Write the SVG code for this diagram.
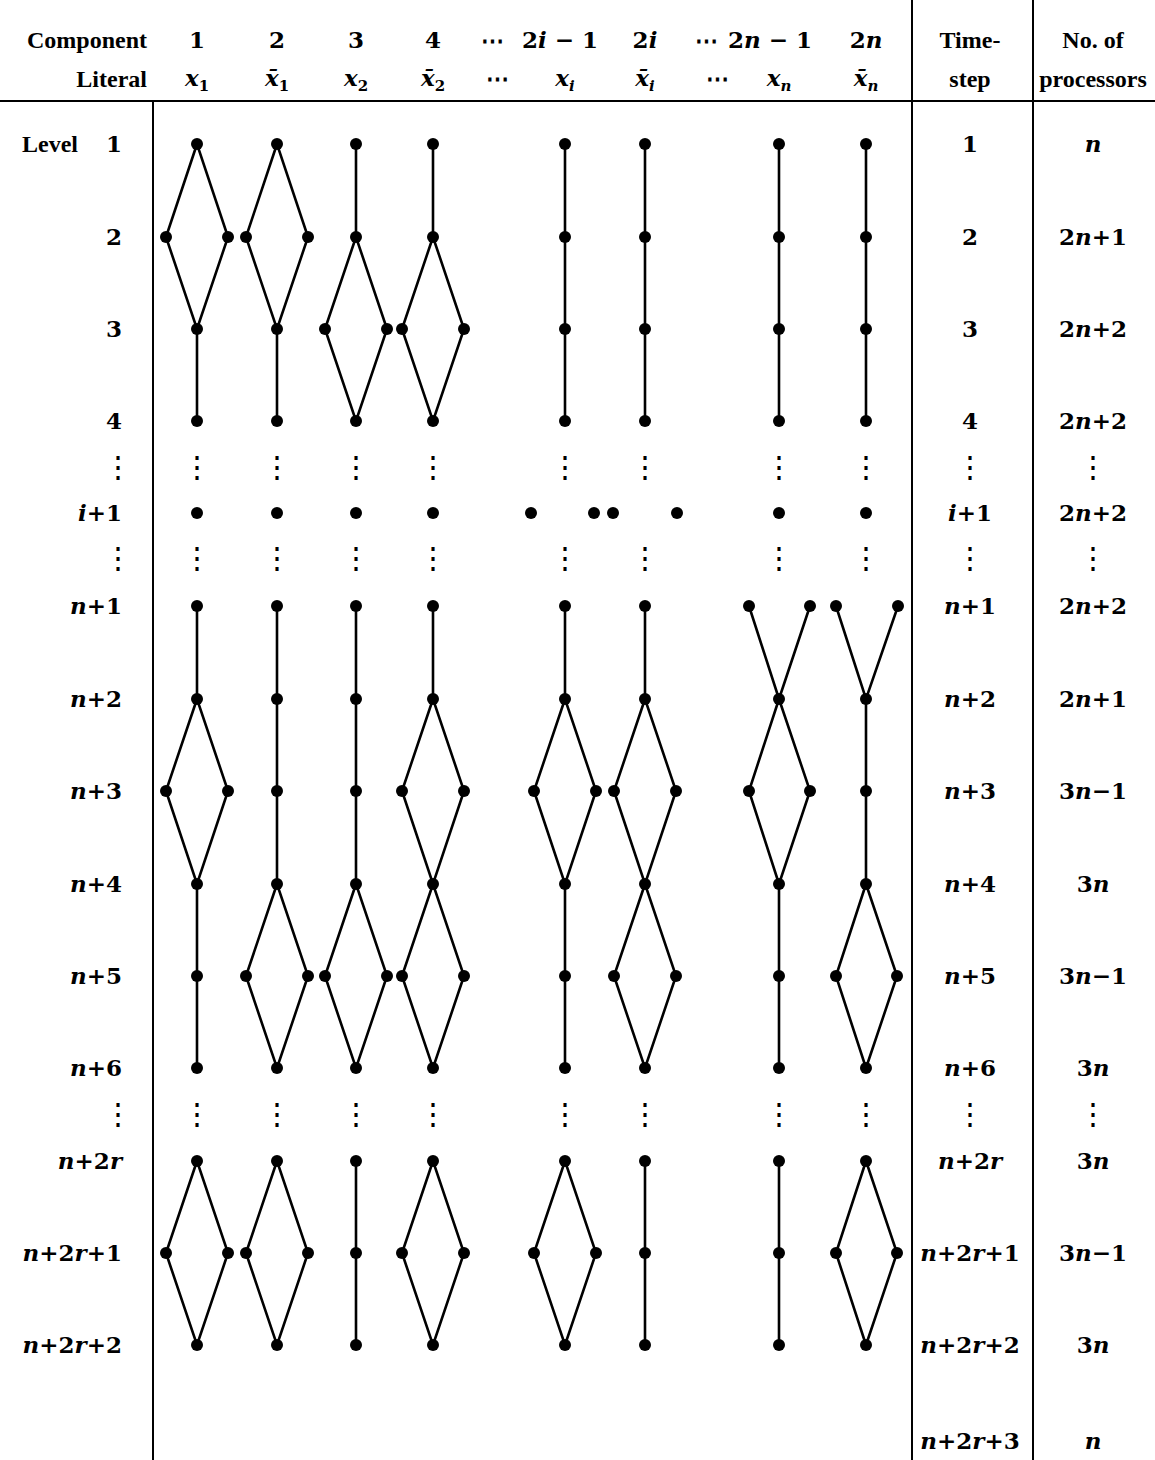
<svg xmlns="http://www.w3.org/2000/svg" width="1155" height="1460" viewBox="0 0 1155 1460">
<style>
.w{font-family:"Liberation Serif",serif;font-weight:bold;font-size:24px;fill:#000}
.m{font-family:"DejaVu Serif",serif;font-weight:bold;font-size:23px;fill:#000}
.i{font-style:italic}
.s{font-size:15px}
.v{font-family:"DejaVu Serif",serif;font-weight:normal;font-size:30px;fill:#000;text-anchor:middle}
.c{text-anchor:middle}
.r{text-anchor:end}
.e{stroke:#000;stroke-width:2.6;fill:none;stroke-linejoin:miter}
.g{stroke:#000;stroke-width:2;fill:none}
.d{fill:#000}
</style>
<rect width="1155" height="1460" fill="#fff"/>
<g id="grid">
<line class="g" x1="0" y1="101" x2="1155" y2="101"/>
<line class="g" x1="153" y1="101" x2="153" y2="1460"/>
<line class="g" x1="912" y1="0" x2="912" y2="1460"/>
<line class="g" x1="1033" y1="0" x2="1033" y2="1460"/>
</g>
<g id="header">
<text class="w r" x="147" y="48">Component</text>
<text class="w r" x="147" y="87">Literal</text>
<text class="m c" x="197" y="48">1</text>
<text class="m c" x="277" y="48">2</text>
<text class="m c" x="356" y="48">3</text>
<text class="m c" x="433" y="48">4</text>
<text class="m c" x="492" y="48">⋯</text>
<text class="m c" x="560" y="48">2<tspan class="i">i</tspan> − 1</text>
<text class="m c" x="645" y="48">2<tspan class="i">i</tspan></text>
<text class="m c" x="706" y="48">⋯</text>
<text class="m c" x="770" y="48">2<tspan class="i">n</tspan> − 1</text>
<text class="m c" x="866" y="48">2<tspan class="i">n</tspan></text>
<text class="m c" x="197" y="86"><tspan class="i">x</tspan><tspan class="s" dy="5">1</tspan></text>
<text class="m c" x="277" y="86"><tspan class="i">x̄</tspan><tspan class="s" dy="5">1</tspan></text>
<text class="m c" x="356" y="86"><tspan class="i">x</tspan><tspan class="s" dy="5">2</tspan></text>
<text class="m c" x="433" y="86"><tspan class="i">x̄</tspan><tspan class="s" dy="5">2</tspan></text>
<text class="m c" x="497" y="86">⋯</text>
<text class="m c" x="565" y="86"><tspan class="i">x</tspan><tspan class="s i" dy="5">i</tspan></text>
<text class="m c" x="645" y="86"><tspan class="i">x̄</tspan><tspan class="s i" dy="5">i</tspan></text>
<text class="m c" x="717" y="86">⋯</text>
<text class="m c" x="779" y="86"><tspan class="i">x</tspan><tspan class="s i" dy="5">n</tspan></text>
<text class="m c" x="866" y="86"><tspan class="i">x̄</tspan><tspan class="s i" dy="5">n</tspan></text>
<text class="w c" x="970" y="48">Time-</text>
<text class="w c" x="970" y="87">step</text>
<text class="w c" x="1093" y="48">No. of</text>
<text class="w c" x="1093" y="87">processors</text>
</g>
<g id="level-labels">
<text class="w" x="22" y="152">Level</text>
<text class="m r" x="122" y="152">1</text>
<text class="m r" x="122" y="245">2</text>
<text class="m r" x="122" y="337">3</text>
<text class="m r" x="122" y="429">4</text>
<text class="v" x="118" y="477">⋮</text>
<text class="m r" x="122" y="521"><tspan class="i">i</tspan>+1</text>
<text class="v" x="118" y="568">⋮</text>
<text class="m r" x="122" y="614"><tspan class="i">n</tspan>+1</text>
<text class="m r" x="122" y="707"><tspan class="i">n</tspan>+2</text>
<text class="m r" x="122" y="799"><tspan class="i">n</tspan>+3</text>
<text class="m r" x="122" y="892"><tspan class="i">n</tspan>+4</text>
<text class="m r" x="122" y="984"><tspan class="i">n</tspan>+5</text>
<text class="m r" x="122" y="1076"><tspan class="i">n</tspan>+6</text>
<text class="v" x="118" y="1124">⋮</text>
<text class="m r" x="122" y="1169"><tspan class="i">n</tspan>+2<tspan class="i">r</tspan></text>
<text class="m r" x="122" y="1261"><tspan class="i">n</tspan>+2<tspan class="i">r</tspan>+1</text>
<text class="m r" x="122" y="1353"><tspan class="i">n</tspan>+2<tspan class="i">r</tspan>+2</text>
</g>
<g id="timestep">
<text class="m c" x="970" y="152">1</text>
<text class="m c" x="970" y="245">2</text>
<text class="m c" x="970" y="337">3</text>
<text class="m c" x="970" y="429">4</text>
<text class="v" x="970" y="477">⋮</text>
<text class="m c" x="970" y="521"><tspan class="i">i</tspan>+1</text>
<text class="v" x="970" y="568">⋮</text>
<text class="m c" x="970" y="614"><tspan class="i">n</tspan>+1</text>
<text class="m c" x="970" y="707"><tspan class="i">n</tspan>+2</text>
<text class="m c" x="970" y="799"><tspan class="i">n</tspan>+3</text>
<text class="m c" x="970" y="892"><tspan class="i">n</tspan>+4</text>
<text class="m c" x="970" y="984"><tspan class="i">n</tspan>+5</text>
<text class="m c" x="970" y="1076"><tspan class="i">n</tspan>+6</text>
<text class="v" x="970" y="1124">⋮</text>
<text class="m c" x="970" y="1169"><tspan class="i">n</tspan>+2<tspan class="i">r</tspan></text>
<text class="m c" x="970" y="1261"><tspan class="i">n</tspan>+2<tspan class="i">r</tspan>+1</text>
<text class="m c" x="970" y="1353"><tspan class="i">n</tspan>+2<tspan class="i">r</tspan>+2</text>
<text class="m c" x="970" y="1449"><tspan class="i">n</tspan>+2<tspan class="i">r</tspan>+3</text>
</g>
<g id="processors">
<text class="m c i" x="1093" y="152">n</text>
<text class="m c" x="1093" y="245">2<tspan class="i">n</tspan>+1</text>
<text class="m c" x="1093" y="337">2<tspan class="i">n</tspan>+2</text>
<text class="m c" x="1093" y="429">2<tspan class="i">n</tspan>+2</text>
<text class="v" x="1093" y="477">⋮</text>
<text class="m c" x="1093" y="521">2<tspan class="i">n</tspan>+2</text>
<text class="v" x="1093" y="568">⋮</text>
<text class="m c" x="1093" y="614">2<tspan class="i">n</tspan>+2</text>
<text class="m c" x="1093" y="707">2<tspan class="i">n</tspan>+1</text>
<text class="m c" x="1093" y="799">3<tspan class="i">n</tspan>−1</text>
<text class="m c" x="1093" y="892">3<tspan class="i">n</tspan></text>
<text class="m c" x="1093" y="984">3<tspan class="i">n</tspan>−1</text>
<text class="m c" x="1093" y="1076">3<tspan class="i">n</tspan></text>
<text class="v" x="1093" y="1124">⋮</text>
<text class="m c" x="1093" y="1169">3<tspan class="i">n</tspan></text>
<text class="m c" x="1093" y="1261">3<tspan class="i">n</tspan>−1</text>
<text class="m c" x="1093" y="1353">3<tspan class="i">n</tspan></text>
<text class="m c i" x="1093" y="1449">n</text>
</g>
<g id="ellipses">
<text class="v" x="197" y="477">⋮</text><text class="v" x="277" y="477">⋮</text><text class="v" x="356" y="477">⋮</text><text class="v" x="433" y="477">⋮</text><text class="v" x="565" y="477">⋮</text><text class="v" x="645" y="477">⋮</text><text class="v" x="779" y="477">⋮</text><text class="v" x="866" y="477">⋮</text>
<text class="v" x="197" y="568">⋮</text><text class="v" x="277" y="568">⋮</text><text class="v" x="356" y="568">⋮</text><text class="v" x="433" y="568">⋮</text><text class="v" x="565" y="568">⋮</text><text class="v" x="645" y="568">⋮</text><text class="v" x="779" y="568">⋮</text><text class="v" x="866" y="568">⋮</text>
<text class="v" x="197" y="1124">⋮</text><text class="v" x="277" y="1124">⋮</text><text class="v" x="356" y="1124">⋮</text><text class="v" x="433" y="1124">⋮</text><text class="v" x="565" y="1124">⋮</text><text class="v" x="645" y="1124">⋮</text><text class="v" x="779" y="1124">⋮</text><text class="v" x="866" y="1124">⋮</text>
</g>
<g id="connectors">
<path class="e" d="M197 144 L166 237 L197 329 L228 237 Z M197 329 V421 M197 606 V699 M197 699 L166 791 L197 884 L228 791 Z M197 884 V1068 M197 1161 L166 1253 L197 1345 L228 1253 Z"/>
<path class="e" d="M277 144 L246 237 L277 329 L308 237 Z M277 329 V421 M277 606 V884 M277 884 L246 976 L277 1068 L308 976 Z M277 1161 L246 1253 L277 1345 L308 1253 Z"/>
<path class="e" d="M356 144 V237 M356 237 L325 329 L356 421 L387 329 Z M356 606 V884 M356 884 L325 976 L356 1068 L387 976 Z M356 1161 V1345"/>
<path class="e" d="M433 144 V237 M433 237 L402 329 L433 421 L464 329 Z M433 606 V699 M433 699 L402 791 L433 884 L464 791 Z M433 884 L402 976 L433 1068 L464 976 Z M433 1161 L402 1253 L433 1345 L464 1253 Z"/>
<path class="e" d="M565 144 V421 M565 606 V699 M565 699 L534 791 L565 884 L596 791 Z M565 884 V1068 M565 1161 L534 1253 L565 1345 L596 1253 Z"/>
<path class="e" d="M645 144 V421 M645 606 V699 M645 699 L614 791 L645 884 L676 791 Z M645 884 L614 976 L645 1068 L676 976 Z M645 1161 V1345"/>
<path class="e" d="M779 144 V421 M749 606 L779 699 L810 606 M779 699 L749 791 L779 884 L810 791 Z M779 884 V1068 M779 1161 V1345"/>
<path class="e" d="M866 144 V421 M836 606 L866 699 L898 606 M866 699 V884 M866 884 L836 976 L866 1068 L897 976 Z M866 1161 L836 1253 L866 1345 L897 1253 Z"/>
</g>
<g id="nodes">
<g id="col1" class="d">
<circle cx="197" cy="144" r="6"/><circle cx="166" cy="237" r="6"/><circle cx="228" cy="237" r="6"/><circle cx="197" cy="329" r="6"/><circle cx="197" cy="421" r="6"/><circle cx="197" cy="513" r="6"/><circle cx="197" cy="606" r="6"/><circle cx="197" cy="699" r="6"/><circle cx="166" cy="791" r="6"/><circle cx="228" cy="791" r="6"/><circle cx="197" cy="884" r="6"/><circle cx="197" cy="976" r="6"/><circle cx="197" cy="1068" r="6"/><circle cx="197" cy="1161" r="6"/><circle cx="166" cy="1253" r="6"/><circle cx="228" cy="1253" r="6"/><circle cx="197" cy="1345" r="6"/>
</g>
<g id="col2" class="d">
<circle cx="277" cy="144" r="6"/><circle cx="246" cy="237" r="6"/><circle cx="308" cy="237" r="6"/><circle cx="277" cy="329" r="6"/><circle cx="277" cy="421" r="6"/><circle cx="277" cy="513" r="6"/><circle cx="277" cy="606" r="6"/><circle cx="277" cy="699" r="6"/><circle cx="277" cy="791" r="6"/><circle cx="277" cy="884" r="6"/><circle cx="246" cy="976" r="6"/><circle cx="308" cy="976" r="6"/><circle cx="277" cy="1068" r="6"/><circle cx="277" cy="1161" r="6"/><circle cx="246" cy="1253" r="6"/><circle cx="308" cy="1253" r="6"/><circle cx="277" cy="1345" r="6"/>
</g>
<g id="col3" class="d">
<circle cx="356" cy="144" r="6"/><circle cx="356" cy="237" r="6"/><circle cx="325" cy="329" r="6"/><circle cx="387" cy="329" r="6"/><circle cx="356" cy="421" r="6"/><circle cx="356" cy="513" r="6"/><circle cx="356" cy="606" r="6"/><circle cx="356" cy="699" r="6"/><circle cx="356" cy="791" r="6"/><circle cx="356" cy="884" r="6"/><circle cx="325" cy="976" r="6"/><circle cx="387" cy="976" r="6"/><circle cx="356" cy="1068" r="6"/><circle cx="356" cy="1161" r="6"/><circle cx="356" cy="1253" r="6"/><circle cx="356" cy="1345" r="6"/>
</g>
<g id="col4" class="d">
<circle cx="433" cy="144" r="6"/><circle cx="433" cy="237" r="6"/><circle cx="402" cy="329" r="6"/><circle cx="464" cy="329" r="6"/><circle cx="433" cy="421" r="6"/><circle cx="433" cy="513" r="6"/><circle cx="433" cy="606" r="6"/><circle cx="433" cy="699" r="6"/><circle cx="402" cy="791" r="6"/><circle cx="464" cy="791" r="6"/><circle cx="433" cy="884" r="6"/><circle cx="402" cy="976" r="6"/><circle cx="464" cy="976" r="6"/><circle cx="433" cy="1068" r="6"/><circle cx="433" cy="1161" r="6"/><circle cx="402" cy="1253" r="6"/><circle cx="464" cy="1253" r="6"/><circle cx="433" cy="1345" r="6"/>
</g>
<g id="col5" class="d">
<circle cx="565" cy="144" r="6"/><circle cx="565" cy="237" r="6"/><circle cx="565" cy="329" r="6"/><circle cx="565" cy="421" r="6"/><circle cx="531" cy="513" r="6"/><circle cx="594" cy="513" r="6"/><circle cx="565" cy="606" r="6"/><circle cx="565" cy="699" r="6"/><circle cx="534" cy="791" r="6"/><circle cx="596" cy="791" r="6"/><circle cx="565" cy="884" r="6"/><circle cx="565" cy="976" r="6"/><circle cx="565" cy="1068" r="6"/><circle cx="565" cy="1161" r="6"/><circle cx="534" cy="1253" r="6"/><circle cx="596" cy="1253" r="6"/><circle cx="565" cy="1345" r="6"/>
</g>
<g id="col6" class="d">
<circle cx="645" cy="144" r="6"/><circle cx="645" cy="237" r="6"/><circle cx="645" cy="329" r="6"/><circle cx="645" cy="421" r="6"/><circle cx="613" cy="513" r="6"/><circle cx="677" cy="513" r="6"/><circle cx="645" cy="606" r="6"/><circle cx="645" cy="699" r="6"/><circle cx="614" cy="791" r="6"/><circle cx="676" cy="791" r="6"/><circle cx="645" cy="884" r="6"/><circle cx="614" cy="976" r="6"/><circle cx="676" cy="976" r="6"/><circle cx="645" cy="1068" r="6"/><circle cx="645" cy="1161" r="6"/><circle cx="645" cy="1253" r="6"/><circle cx="645" cy="1345" r="6"/>
</g>
<g id="col7" class="d">
<circle cx="779" cy="144" r="6"/><circle cx="779" cy="237" r="6"/><circle cx="779" cy="329" r="6"/><circle cx="779" cy="421" r="6"/><circle cx="779" cy="513" r="6"/><circle cx="749" cy="606" r="6"/><circle cx="810" cy="606" r="6"/><circle cx="779" cy="699" r="6"/><circle cx="749" cy="791" r="6"/><circle cx="810" cy="791" r="6"/><circle cx="779" cy="884" r="6"/><circle cx="779" cy="976" r="6"/><circle cx="779" cy="1068" r="6"/><circle cx="779" cy="1161" r="6"/><circle cx="779" cy="1253" r="6"/><circle cx="779" cy="1345" r="6"/>
</g>
<g id="col8" class="d">
<circle cx="866" cy="144" r="6"/><circle cx="866" cy="237" r="6"/><circle cx="866" cy="329" r="6"/><circle cx="866" cy="421" r="6"/><circle cx="866" cy="513" r="6"/><circle cx="836" cy="606" r="6"/><circle cx="898" cy="606" r="6"/><circle cx="866" cy="699" r="6"/><circle cx="866" cy="791" r="6"/><circle cx="866" cy="884" r="6"/><circle cx="836" cy="976" r="6"/><circle cx="897" cy="976" r="6"/><circle cx="866" cy="1068" r="6"/><circle cx="866" cy="1161" r="6"/><circle cx="836" cy="1253" r="6"/><circle cx="897" cy="1253" r="6"/><circle cx="866" cy="1345" r="6"/>
</g>
</g>
</svg>
